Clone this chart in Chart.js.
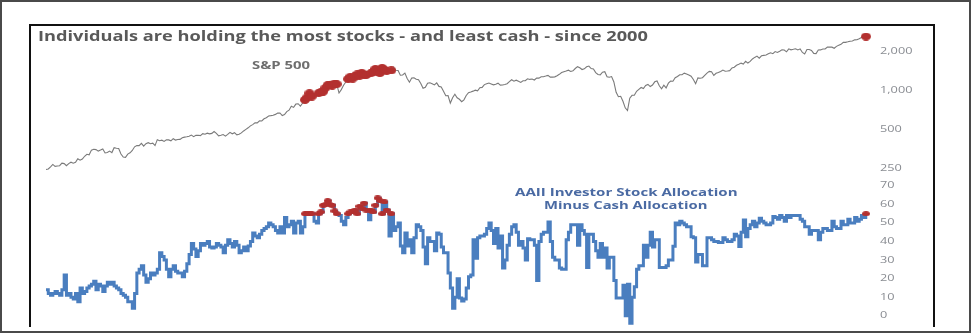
<!DOCTYPE html>
<html>
<head>
<meta charset="utf-8">
<script src="https://cdn.jsdelivr.net/npm/chart.js@4.4.1/dist/chart.umd.min.js"></script>
<style>
  body { margin: 0; background: #fff; width: 975px; height: 336px; overflow: hidden; position: relative; font-family: "Open Sans", sans-serif; }
  #outer { position: absolute; left: 0; top: 0; width: 967px; height: 329px; border: 2px solid #4a4a4a; }
  #inner { position: absolute; left: 29px; top: 24px; width: 902px; height: 301px; border: 2px solid #111; border-bottom: none; }
  canvas { position: absolute; left: 0; top: 0; }
  .lbl { position: absolute; font-weight: 700; white-space: nowrap; line-height: 1; transform-origin: 0 50%; }
  #title { left: 38px; top: 29px; font-size: 14px; color: #595959; }
  #spxLbl { left: 252px; top: 60px; font-size: 10.5px; color: #6e6e6e; }
  #aaii1 { left: 515px; top: 186px; font-size: 11px; color: #4a6aa3; }
  #aaii2 { left: 544px; top: 198.5px; font-size: 11px; color: #4a6aa3; }
</style>
</head>
<body>
<div id="outer"></div>
<div id="inner"></div>
<canvas id="spxChart" width="975" height="336"></canvas>
<canvas id="aaiiChart" width="975" height="336"></canvas>
<div id="title" class="lbl" data-w="610">Individuals are holding the most stocks - and least cash - since 2000</div>
<div id="spxLbl" class="lbl" data-w="58">S&amp;P 500</div>
<div id="aaii1" class="lbl" data-w="222">AAII Investor Stock Allocation</div>
<div id="aaii2" class="lbl" data-w="163">Minus Cash Allocation</div>
<script>
// Monthly, Nov 1987 - Dec 2017
const startYear = 1987, startMonth = 11, endYear = 2017, endMonth = 12;
const months = [];
for (let y = startYear, m = startMonth; y < endYear || (y === endYear && m <= endMonth); m++) {
    if (m > 12) { m = 1; y++; }
    months.push(y + '-' + String(m).padStart(2, '0'));
}

// S&P 500 (log scale)
const spx = [
    245, 247,
    257, 268, 259, 261, 262, 274, 272, 262, 272, 279, 274, 278,
    297, 289, 295, 310, 321, 318, 346, 351, 349, 340, 346, 353,
    329, 332, 340, 331, 361, 358, 356, 323, 306, 304, 322, 330,
    344, 367, 375, 375, 390, 371, 388, 395, 388, 392, 375, 417,
    409, 413, 404, 415, 415, 408, 424, 414, 418, 419, 431, 436,
    439, 443, 452, 440, 450, 451, 448, 464, 459, 468, 462, 466,
    482, 467, 446, 451, 457, 444, 458, 475, 463, 472, 454, 459,
    470, 487, 501, 515, 533, 545, 562, 562, 584, 582, 605, 616,
    636, 640, 645, 654, 669, 671, 640, 652, 687, 705, 757, 741,
    786, 791, 757, 801, 848, 885, 954, 899, 947, 915, 955, 970,
    980, 1049, 1102, 1112, 1091, 1134, 1121, 957, 1017, 1099, 1164, 1229,
    1280, 1238, 1286, 1335, 1302, 1373, 1329, 1320, 1283, 1363, 1389, 1469,
    1394, 1366, 1499, 1452, 1421, 1455, 1431, 1518, 1437, 1429, 1315, 1320,
    1366, 1240, 1160, 1249, 1256, 1224, 1211, 1134, 1041, 1060, 1139, 1148,
    1130, 1107, 1147, 1077, 1067, 990, 912, 916, 800, 880, 936, 880,
    856, 820, 848, 917, 964, 975, 990, 1008, 996, 1051, 1058, 1112,
    1131, 1145, 1126, 1107, 1121, 1141, 1102, 1104, 1115, 1130, 1174, 1212,
    1181, 1204, 1181, 1157, 1192, 1191, 1234, 1220, 1229, 1207, 1249, 1248,
    1280, 1281, 1295, 1311, 1270, 1270, 1277, 1304, 1336, 1378, 1401, 1418,
    1438, 1407, 1421, 1482, 1531, 1503, 1455, 1474, 1527, 1549, 1481, 1468,
    1379, 1331, 1323, 1386, 1400, 1280, 1267, 1283, 1166, 969, 896, 903,
    826, 735, 700, 873, 919, 919, 987, 1021, 1057, 1036, 1096, 1115,
    1074, 1104, 1169, 1187, 1089, 1031, 1102, 1049, 1141, 1183, 1181, 1258,
    1286, 1327, 1326, 1364, 1345, 1321, 1292, 1219, 1131, 1253, 1247, 1258,
    1312, 1366, 1408, 1398, 1310, 1362, 1379, 1406, 1441, 1412, 1416, 1426,
    1498, 1515, 1569, 1598, 1631, 1606, 1686, 1633, 1682, 1757, 1806, 1848,
    1783, 1859, 1872, 1884, 1924, 1960, 1931, 2003, 1972, 2018, 2068, 2059,
    1995, 2105, 2068, 2086, 2107, 2063, 2104, 1972, 1920, 2079, 2080, 2044,
    1940, 1932, 2060, 2065, 2097, 2099, 2174, 2171, 2168, 2126, 2199, 2239,
    2279, 2364, 2363, 2384, 2412, 2423, 2470, 2472, 2519, 2575, 2600, 2620
];

// AAII stock allocation minus cash allocation (%)
const aaii = [
    14, 12,
    11, 12, 13, 12, 11, 14, 22, 11, 12, 10, 9, 12,
    7.5, 15, 12, 13, 15, 16, 17, 18.6, 14, 17, 16, 13,
    16, 18, 17, 18, 16, 15, 14, 12, 11, 10, 7.5, 7.5,
    4, 12, 23, 25, 27, 22, 18, 20, 23, 22, 23, 25,
    34, 32, 30, 25, 21, 25, 27, 24, 23, 23, 21, 24,
    28, 33, 39, 36, 32, 35, 39, 38, 39, 40, 37, 36.5,
    37, 39, 38, 37, 34, 38, 41, 39, 37, 40, 38, 34,
    35, 37, 35, 37.6, 40, 44.6, 43, 42, 44, 46, 47, 48,
    50, 49, 48, 46, 44.6, 48, 44.6, 53, 48, 49, 51, 44.6,
    50, 51, 44.6, 48, 55, 55, 55, 55, 51, 50, 55, 56,
    59.6, 60, 62, 60, 59.6, 56.5, 55, 54, 51, 49, 53, 55,
    56, 56, 57, 55, 59, 58, 60.7, 57, 51.7, 57, 56, 59.6,
    63.5, 62, 55, 61.4, 57, 43, 55, 46, 48, 50, 37.6, 34,
    44.6, 37.6, 41, 34, 42, 49, 48, 46, 37, 28, 42, 40,
    40, 35, 44.6, 44, 37, 34, 34, 23, 15, 4, 10, 20,
    9.5, 8, 9, 15, 21, 22, 41, 31, 42, 43, 43, 44,
    47, 50, 46, 39, 47, 36.5, 43, 25.7, 30, 38, 44, 48,
    49, 45, 38, 40, 36.5, 30, 41.5, 41, 41, 38, 19, 40,
    44, 45, 45, 50.5, 40, 31.6, 30, 30, 25.7, 25, 25, 41,
    45, 49, 49, 49, 38, 49, 46, 44, 26, 44, 44, 40,
    35, 31.6, 39, 31.6, 36.5, 25.7, 31.6, 31.6, 19, 9.5, 9.5, 9.5,
    16.5, 0, 17, -4, 10, 15.6, 25, 27, 27, 38, 31.6, 38,
    45, 37, 41, 41, 26, 26, 26, 27, 30, 30, 37.5, 50,
    49, 51, 50, 49, 48, 48, 42.6, 42, 29, 33, 33, 27,
    27, 42, 42, 41, 40, 40, 39.5, 39.5, 42, 41, 40, 40,
    41, 44, 43, 37.4, 45, 51.6, 42.6, 47, 49, 51, 48, 50,
    52.6, 51, 50, 49, 49, 50, 53.5, 53, 52, 54, 53, 51,
    54, 53, 54, 54, 54, 54, 52, 51, 48, 48, 44, 46,
    46, 46, 41, 45, 47, 47, 46, 46, 51, 48, 47, 47,
    51, 49, 49, 52, 50, 50, 53, 51, 52, 54, 53, 55
];

const spxTicks = [250, 500, 1000, 2000];
const aaiiTicks = [0, 10, 20, 30, 40, 50, 60, 70];
const highMark = 55; // readings flagged in red

const RED = '#b3302f';

// the source picture is stretched sideways, so the text is too
document.querySelectorAll('.lbl').forEach(el => {
    el.style.transform = 'scaleX(' + (el.dataset.w / el.offsetWidth) + ')';
});

function ellipseDot(w, h) {
    const c = document.createElement('canvas');
    c.width = w; c.height = h;
    const g = c.getContext('2d');
    g.fillStyle = RED;
    g.beginPath();
    g.ellipse(w / 2, h / 2, w / 2, h / 2, 0, 0, Math.PI * 2);
    g.fill();
    return c;
}

// draws the right-hand tick labels, stretched like the rest of the picture
const wideTicks = {
    id: 'wideTicks',
    afterDraw(chart) {
        const s = chart.scales.y, ctx = chart.ctx;
        ctx.save();
        ctx.font = '8.5px "Open Sans"';
        ctx.fillStyle = '#898c92';
        ctx.textBaseline = 'middle';
        s.ticks.forEach(t => {
            ctx.save();
            ctx.translate(s.left + 14, s.getPixelForValue(t.value));
            ctx.scale(1.5, 1);
            ctx.fillText(t.value.toLocaleString('en-US'), 0, 0);
            ctx.restore();
        });
        ctx.restore();
    }
};

const spxHigh = spx.map((v, i) => aaii[i] >= highMark ? v : null);
const aaiiHigh = aaii.map(v => v >= highMark ? v : null);

function yAxis(extra) {
    return Object.assign({
        position: 'right',
        grid: { display: false, drawTicks: false },
        border: { display: false },
        ticks: { display: false },
        afterFit: s => { s.width = 89; }
    }, extra);
}

new Chart(document.getElementById('spxChart'), {
    type: 'line',
    data: {
        labels: months,
        datasets: [
            { data: spxHigh, showLine: false, pointStyle: ellipseDot(10, 8), pointRadius: 3, clip: false, order: 0 },
            { data: spx, borderColor: '#7a7a7a', borderWidth: 1.1, pointRadius: 0, tension: 0, order: 1 }
        ]
    },
    options: {
        responsive: false,
        animation: false,
        layout: { padding: { left: 46, top: 30, right: 20, bottom: 161 } },
        plugins: { legend: { display: false }, tooltip: { enabled: false } },
        scales: {
            x: { type: 'category', display: false, offset: false },
            y: yAxis({
                type: 'logarithmic', min: 222, max: 2944,
                afterBuildTicks: s => { s.ticks = spxTicks.map(v => ({ value: v })); }
            })
        }
    },
    plugins: [wideTicks]
});

new Chart(document.getElementById('aaiiChart'), {
    type: 'line',
    data: {
        labels: months,
        datasets: [
            { data: aaiiHigh, showLine: false, pointStyle: ellipseDot(8, 5), pointRadius: 3, clip: false, order: 0 },
            { data: aaii, borderColor: '#4a7ebf', borderWidth: 3, pointRadius: 0, stepped: true, order: 1 }
        ]
    },
    options: {
        responsive: false,
        animation: false,
        layout: { padding: { left: 46, top: 180, right: 20, bottom: 11 } },
        plugins: { legend: { display: false }, tooltip: { enabled: false } },
        scales: {
            x: { type: 'category', display: false, offset: false },
            y: yAxis({
                type: 'linear', min: -5, max: 73.2,
                afterBuildTicks: s => { s.ticks = aaiiTicks.map(v => ({ value: v })); }
            })
        }
    },
    plugins: [wideTicks]
});
</script>
</body>
</html>
